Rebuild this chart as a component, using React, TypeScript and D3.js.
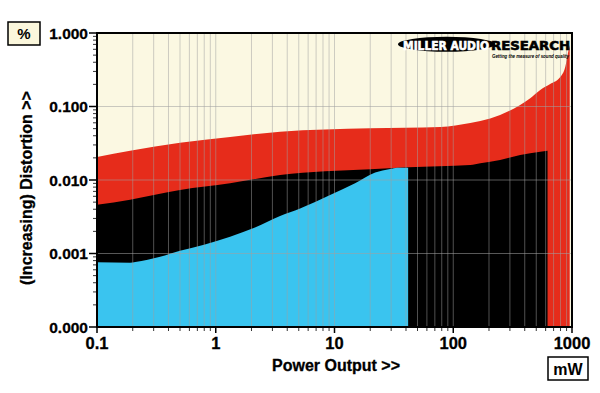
import React from "react";
import * as d3 from "d3";

// ---- data (power in mW, distortion in %) ----
const redPower = [0.1, 0.19, 0.5, 1.32, 3.48, 20, 78, 139, 169, 248, 366, 445, 540, 655, 796, 877, 929, 957];
const redTHD = [0.0206, 0.025, 0.032, 0.0385, 0.0454, 0.0505, 0.0526, 0.0597, 0.0635, 0.0766, 0.105, 0.13, 0.168, 0.202, 0.252, 0.345, 0.551, 0.687];

const blackPower = [0.1, 0.19, 0.5, 1.32, 3.48, 20, 41.7, 139, 169, 248, 366, 540, 622];
const blackTHD = [0.0046, 0.0054, 0.0073, 0.009, 0.0117, 0.014, 0.0149, 0.016, 0.0169, 0.0187, 0.0219, 0.0243, 0.025];

const bluePower = [0.1, 0.19, 0.21, 0.34, 0.5, 0.81, 1.32, 2.14, 3.48, 5.13, 9.18, 14.9, 22, 29.4, 33.7, 41.7];
const blueTHD = [0.00076, 0.00075, 0.000765, 0.0009, 0.00109, 0.00133, 0.00169, 0.00225, 0.00324, 0.0041, 0.00625, 0.009, 0.0126, 0.0141, 0.0147, 0.0147];

const xTickValues = [0.1, 1, 10, 100, 1000];
const xTickLabels = ["0.1", "1", "10", "100", "1000"];
const yTickValues = [1, 0.1, 0.01, 0.001, 0.0001];
const yTickLabels = ["1.000", "0.100", "0.010", "0.001", "0.000"];

const FONT = "'Liberation Sans', Arial, sans-serif";
const HEAVY = "'DejaVu Sans', sans-serif";

export default function App() {
  const left = 97, right = 572, top = 33, bottom = 327;
  const x = d3.scaleLog().domain([0.1, 1000]).range([left, right]);
  const y = d3.scaleLog().domain([0.0001, 1]).range([bottom, top]);

  const mk = (p: number[], v: number[]) =>
    d3
      .area<number>()
      .x((_, i) => x(p[i]))
      .y0(bottom)
      .y1((_, i) => y(v[i]))
      .curve(d3.curveMonotoneX)(p) as string;

  const xMinor: number[] = [];
  for (let e = -1; e < 3; e++) for (let k = 1; k < 10; k++) xMinor.push(k * Math.pow(10, e));
  xMinor.push(1000);
  const yMinor: number[] = [];
  for (let e = -4; e < 0; e++) for (let k = 2; k < 10; k++) yMinor.push(k * Math.pow(10, e));

  return (
    <svg width={600} height={393} style={{ position: "absolute", left: 0, top: 0, background: "#fff" }}>
      <rect x={0} y={0} width={600} height={393} fill="#ffffff" />
      {/* plot background */}
      <rect x={left} y={top} width={right - left} height={bottom - top} fill="#fbf8e2" />
      {/* areas */}
      <path d={mk(redPower, redTHD)} fill="#e62c1b" />
      <path d={mk(blackPower, blackTHD)} fill="#000000" />
      <path d={mk(bluePower, blueTHD)} fill="#3ac4ef" />
      {/* grid */}
      {xMinor.map((v, i) => (
        <line key={"gx" + i} x1={x(v)} x2={x(v)} y1={top} y2={bottom} stroke="#a0a0a0" strokeOpacity={0.5} strokeWidth={1} />
      ))}
      {[0.1, 0.01, 0.001].map((v, i) => (
        <line key={"gy" + i} x1={left} x2={right} y1={y(v)} y2={y(v)} stroke="#a0a0a0" strokeOpacity={0.55} strokeWidth={1} />
      ))}
      {/* frame */}
      <rect x={left} y={top} width={right - left} height={bottom - top} fill="none" stroke="#000" strokeWidth={2} />
      {/* y ticks */}
      {yTickValues.map((v, i) => (
        <g key={"yt" + i}>
          <line x1={left - 8} x2={left} y1={y(v)} y2={y(v)} stroke="#000" strokeWidth={1.5} />
          <text x={left - 9} y={y(v) + 5.5} textAnchor="end" fontFamily={FONT} fontWeight="bold" fontSize={15.5} fill="#000" stroke="#000" strokeWidth={0.3}>
            {yTickLabels[i]}
          </text>
        </g>
      ))}
      {yMinor.map((v, i) => (
        <line key={"ym" + i} x1={left - 4} x2={left - 1} y1={y(v)} y2={y(v)} stroke="#333" strokeWidth={1} />
      ))}
      {/* x ticks */}
      {xTickValues.map((v, i) => (
        <g key={"xt" + i}>
          <line x1={x(v)} x2={x(v)} y1={bottom} y2={bottom + 6} stroke="#000" strokeWidth={1.5} />
          <text x={x(v)} y={349} textAnchor="middle" fontFamily={FONT} fontWeight="bold" fontSize={16.5} fill="#000" stroke="#000" strokeWidth={0.3}>
            {xTickLabels[i]}
          </text>
        </g>
      ))}
      {xMinor
        .filter((v) => !xTickValues.includes(v))
        .map((v, i) => (
          <line key={"xm" + i} x1={x(v)} x2={x(v)} y1={bottom + 1} y2={bottom + 4} stroke="#333" strokeWidth={1} />
        ))}
      {/* axis titles */}
      <text x={336} y={371} textAnchor="middle" fontFamily={FONT} fontWeight="bold" fontSize={16} fill="#000" stroke="#000" strokeWidth={0.3}>
        Power Output &gt;&gt;
      </text>
      <text
        transform="translate(32,188) rotate(-90)"
        textAnchor="middle"
        fontFamily={FONT}
        fontWeight="bold"
        fontSize={16}
        fill="#000"
        stroke="#000"
        strokeWidth={0.3}
      >
        (Increasing) Distortion &gt;&gt;
      </text>
      {/* unit boxes */}
      <rect x={8} y={22} width={32} height={23} fill="#fbf7dc" stroke="#000" strokeWidth={1.5} />
      <text x={24} y={39} textAnchor="middle" fontFamily={FONT} fontWeight="bold" fontSize={15} fill="#000">
        %
      </text>
      <rect x={548} y={357} width={40} height={23} fill="#ffffff" stroke="#000" strokeWidth={1.5} />
      <text x={568} y={375} textAnchor="middle" fontFamily={FONT} fontWeight="bold" fontSize={16} fill="#000">
        mW
      </text>
      {/* logo */}
      <ellipse cx={446.5} cy={44.2} rx={48.5} ry={7.5} fill="#000" />
      <text x={403} y={50} textLength={86} lengthAdjust="spacingAndGlyphs" fontFamily={HEAVY} fontWeight="bold" fontSize={11.5} fill="#fff" stroke="#fff" strokeWidth={0.6}>
        MILLER AUDIO
      </text>
      <text x={491} y={50} textLength={79} lengthAdjust="spacingAndGlyphs" fontFamily={HEAVY} fontWeight="bold" fontSize={11.5} fill="#000" stroke="#000" strokeWidth={0.6}>
        RESEARCH
      </text>
      <text x={492} y={57.5} textLength={77} lengthAdjust="spacingAndGlyphs" fontFamily={FONT} fontWeight="bold" fontStyle="italic" fontSize={6} fill="#000">
        Getting the measure of sound quality
      </text>
    </svg>
  );
}
